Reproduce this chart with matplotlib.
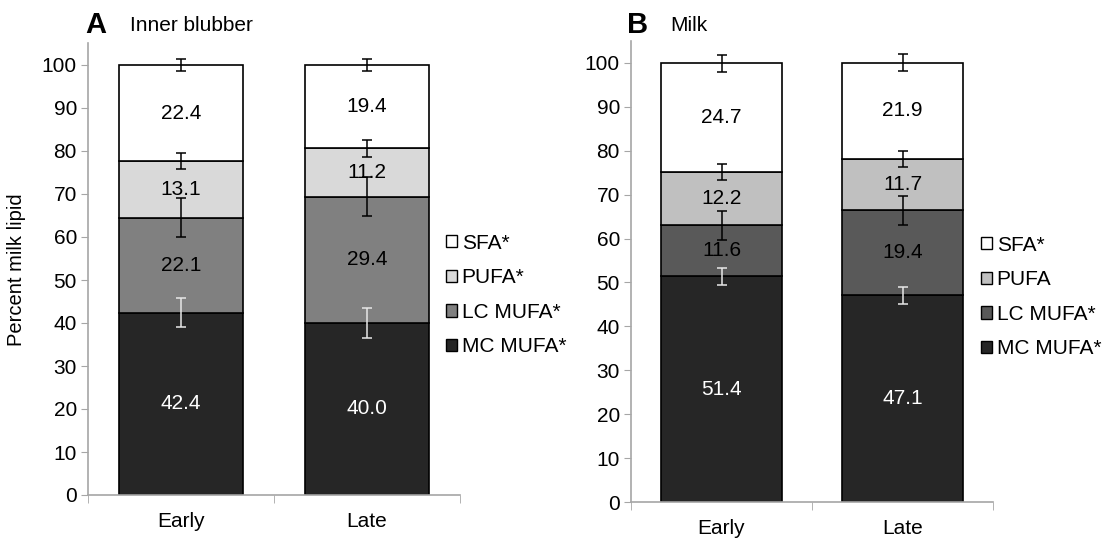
import matplotlib
matplotlib.use("Agg")
import matplotlib.pyplot as plt
from matplotlib.patches import Patch

plt.rcParams['font.family'] = ['Liberation Sans', 'DejaVu Sans']

stages = ["Early", "Late"]
groups = ["MC MUFA", "LC MUFA", "PUFA", "SFA"]

# panel A - inner blubber
blubber_vals = {"MC MUFA": [42.4, 40.0], "LC MUFA": [22.1, 29.4],
                "PUFA": [13.1, 11.2], "SFA": [22.4, 19.4]}
blubber_err = {"MC MUFA": [3.3, 3.4], "LC MUFA": [4.6, 4.6],
               "PUFA": [1.9, 2.0], "SFA": [1.4, 1.4]}
blubber_legend = ["MC MUFA*", "LC MUFA*", "PUFA*", "SFA*"]

# panel B - milk
milk_vals = {"MC MUFA": [51.4, 47.1], "LC MUFA": [11.6, 19.4],
             "PUFA": [12.2, 11.7], "SFA": [24.7, 21.9]}
milk_err = {"MC MUFA": [1.9, 1.9], "LC MUFA": [3.3, 3.3],
            "PUFA": [1.8, 1.8], "SFA": [1.9, 1.9]}
milk_legend = ["MC MUFA*", "LC MUFA*", "PUFA", "SFA*"]

colors_a = ["#262626", "#808080", "#d9d9d9", "#ffffff"]
colors_b = ["#262626", "#595959", "#c0c0c0", "#ffffff"]
text_a = ["white", "black", "black", "black"]
text_b = ["white", "black", "black", "black"]
err_a = ["#e8e8e8", "black", "black", "black"]
err_b = ["#e8e8e8", "black", "black", "black"]

FS = 15
W, H = 1105, 539
fig = plt.figure(figsize=(W / 100, H / 100), dpi=100)


def px_axes(l, r, top, bot):
    return fig.add_axes([l / W, 1 - bot / H, (r - l) / W, (bot - top) / H])


def stacked(ax, vals, errs, colors, tcolors, ecolors):
    x = list(range(len(stages)))
    bottom = [0.0] * len(stages)
    for i, g in enumerate(groups):
        v = vals[g]
        ax.bar(x, v, width=0.665, bottom=bottom, color=colors[i],
               edgecolor="black", linewidth=1.2, zorder=2)
        for j in x:
            ax.text(j, bottom[j] + v[j] / 2, f"{v[j]:.1f}", ha="center",
                    va="center", fontsize=FS, color=tcolors[i], zorder=4)
        bottom = [b + vv for b, vv in zip(bottom, v)]
        ax.errorbar(x, bottom, yerr=errs[g], fmt="none", ecolor=ecolors[i],
                    elinewidth=1.1, capsize=3.3, capthick=1.1, zorder=3)
    ax.set_xlim(-0.5, 1.5)
    ax.set_ylim(0, 105)
    ax.set_yticks(range(0, 101, 10))
    ax.set_xticks(x)
    ax.set_xticklabels(stages)
    ax.set_xticks([-0.5, 0.5, 1.5], minor=True)
    ax.tick_params(axis="x", which="major", length=0, pad=12, labelsize=FS)
    ax.tick_params(axis="x", which="minor", length=6, color="#a6a6a6")
    ax.tick_params(axis="y", length=5, color="#a6a6a6", labelsize=FS, pad=3)
    for s in ["top", "right"]:
        ax.spines[s].set_visible(False)
    for s in ["left", "bottom"]:
        ax.spines[s].set_color("#a6a6a6")
        ax.spines[s].set_linewidth(1.2)


ax1 = px_axes(88, 460, 43.5, 495)
stacked(ax1, blubber_vals, blubber_err, colors_a, text_a, err_a)
ax2 = px_axes(631, 993, 41, 502)
stacked(ax2, milk_vals, milk_err, colors_b, text_b, err_b)

for cols, labs, xl, yc in [(colors_a, blubber_legend, 446, 295),
                           (colors_b, milk_legend, 981, 297)]:
    handles = [Patch(facecolor=c, edgecolor="black", linewidth=1) for c in cols[::-1]]
    fig.legend(handles, labs[::-1], loc="center left",
               bbox_to_anchor=(xl / W, 1 - yc / H), frameon=False,
               fontsize=FS, handlelength=0.55, handleheight=0.55,
               handletextpad=0.2, labelspacing=0.75, borderpad=0,
               borderaxespad=0)

fig.text(17 / W, 1 - 270 / H, "Percent milk lipid", rotation=90,
         ha="center", va="center", fontsize=14.5)
fig.text(85 / W, 1 - 33 / H, "A", fontsize=21, fontweight="bold", va="baseline")
fig.text(130 / W, 1 - 31 / H, "Inner blubber", fontsize=FS, va="baseline")
fig.text(627 / W, 1 - 33 / H, "B", fontsize=21, fontweight="bold", va="baseline")
fig.text(670 / W, 1 - 31 / H, "Milk", fontsize=FS, va="baseline")

fig.savefig("out.png", dpi=100)
